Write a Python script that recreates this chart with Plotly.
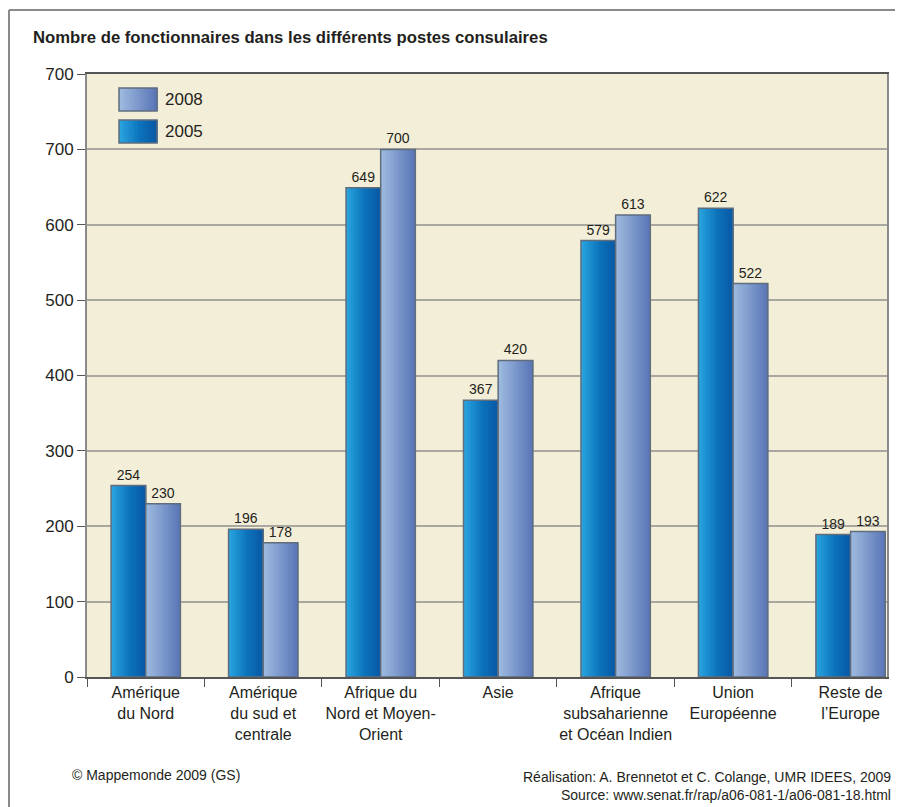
import plotly.graph_objects as go

# ---- data ----
categories = ["Amérique<br>du Nord", "Amérique<br>du sud et<br>centrale", "Afrique du<br>Nord et Moyen-<br>Orient",
              "Asie", "Afrique<br>subsaharienne<br>et Océan Indien", "Union<br>Européenne", "Reste de<br>l’Europe"]
values_2005 = [254, 196, 649, 367, 579, 622, 189]
values_2008 = [230, 178, 700, 420, 613, 522, 193]
y_tickvals = [0, 100, 200, 300, 400, 500, 600, 700, 800]
y_ticktext = ["0", "100", "200", "300", "400", "500", "600", "700", "700"]

title_text = "Nombre de fonctionnaires dans les différents postes consulaires"
credit_left = "© Mappemonde 2009 (GS)"
credit_right1 = "Réalisation: A. Brennetot et C. Colange, UMR IDEES, 2009"
credit_right2 = "Source: www.senat.fr/rap/a06-081-1/a06-081-18.html"

# ---- styles ----
FONT = "Liberation Sans, Arial, sans-serif"
TXT = "#231f20"
BAR_W = 0.295
N_STRIPS = 14

def lerp(c1, c2, t):
    a = [int(c1[i:i + 2], 16) for i in (1, 3, 5)]
    b = [int(c2[i:i + 2], 16) for i in (1, 3, 5)]
    return "rgb(%d,%d,%d)" % tuple(round(a[k] + (b[k] - a[k]) * t) for k in range(3))

def grad(stops, t):
    for i in range(len(stops) - 1):
        p0, c0 = stops[i]
        p1, c1 = stops[i + 1]
        if p0 <= t <= p1:
            return lerp(c0, c1, (t - p0) / (p1 - p0) if p1 > p0 else 0)
    return lerp(stops[-1][1], stops[-1][1], 0)

stops_2005 = [(0.0, "#2aa6e0"), (0.55, "#0b72ba"), (1.0, "#0a58a4")]
stops_2008 = [(0.0, "#a0bce0"), (1.0, "#5874b6")]

fig = go.Figure()

series = [("2005", values_2005, stops_2005, -BAR_W), ("2008", values_2008, stops_2008, 0.0)]
for name, vals, stops, off0 in series:
    sw = BAR_W / N_STRIPS
    for i in range(N_STRIPS):
        t = (i + 0.5) / N_STRIPS
        w = sw * 2.2 if i < N_STRIPS - 1 else sw
        fig.add_trace(go.Bar(
            x=categories, y=vals, offset=off0 + i * sw, width=w,
            marker=dict(color=grad(stops, t), line=dict(width=0)),
            showlegend=False, hoverinfo="skip"))
    fig.add_trace(go.Bar(
        x=categories, y=vals, offset=off0, width=BAR_W, name=name,
        marker=dict(color="rgba(0,0,0,0)", line=dict(color="#5f6d7d", width=1.5)),
        text=[str(v) for v in vals], textposition="outside",
        textfont=dict(size=14, color=TXT, family=FONT),
        cliponaxis=False, showlegend=False))

# ---- legend (drawn) ----
shapes = []
annotations = []
legend_items = [("2008", stops_2008, 0.9768, 0.9386), ("2005", stops_2005, 0.9237, 0.8856)]
lx0, lx1 = 0.04, 0.0875
for name, stops, ytop, ybot in legend_items:
    n = 12
    for i in range(n):
        t = (i + 0.5) / n
        shapes.append(dict(type="rect", xref="paper", yref="paper",
                           x0=lx0 + (lx1 - lx0) * i / n, x1=lx0 + (lx1 - lx0) * (i + 1) / n + 0.001,
                           y0=ybot, y1=ytop, fillcolor=grad(stops, t), line=dict(width=0), layer="above"))
    shapes.append(dict(type="rect", xref="paper", yref="paper", x0=lx0, x1=lx1, y0=ybot, y1=ytop,
                       line=dict(color="#5f6d7d", width=1.5), layer="above"))
    annotations.append(dict(xref="paper", yref="paper", x=0.095, y=(ytop + ybot) / 2, text=name,
                            showarrow=False, xanchor="left", yanchor="middle",
                            font=dict(size=17, color=TXT, family=FONT)))

# outer frame: left and top edges only (the rest runs off the page)
shapes.append(dict(type="line", xref="paper", yref="paper", x0=-0.0975, x1=-0.0975, y0=-0.3, y1=1.106,
                   line=dict(color="#8a8a8a", width=2), layer="below"))
shapes.append(dict(type="line", xref="paper", yref="paper", x0=-0.0975, x1=1.1, y0=1.106, y1=1.106,
                   line=dict(color="#8a8a8a", width=2), layer="below"))

annotations += [
    dict(xref="paper", yref="paper", x=-0.021, y=-0.1625, text=credit_left, showarrow=False,
         xanchor="left", yanchor="middle", font=dict(size=14, color=TXT, family=FONT)),
    dict(xref="paper", yref="paper", x=1.0075, y=-0.1655, text=credit_right1, showarrow=False,
         xanchor="right", yanchor="middle", font=dict(size=14, color=TXT, family=FONT)),
    dict(xref="paper", yref="paper", x=1.0075, y=-0.1957, text=credit_right2, showarrow=False,
         xanchor="right", yanchor="middle", font=dict(size=14, color=TXT, family=FONT)),
]

fig.update_layout(
    width=895, height=799,
    margin=dict(l=79, r=16, t=66, b=130),
    paper_bgcolor="white", plot_bgcolor="#f3eed7",
    barmode="overlay",
    font=dict(family=FONT, color=TXT),
    title=dict(text="<b>" + title_text + "</b>", x=25 / 895, xanchor="left", y=1 - 29 / 799, yanchor="middle",
               font=dict(size=16.7, color=TXT, family=FONT)),
    shapes=shapes, annotations=annotations,
    xaxis=dict(type="category", range=[-0.5, 6.31], tickson="boundaries", ticks="outside", ticklen=8,
               tickangle=0,
               tickcolor="#555555", tickwidth=1.2, showgrid=False, showline=True, linecolor="#555555",
               linewidth=1.5, mirror=True, tickfont=dict(size=16, color=TXT, family=FONT), zeroline=False),
    yaxis=dict(range=[0, 800], tickvals=y_tickvals, ticktext=y_ticktext, ticks="outside", ticklen=8,
               tickcolor="#555555", tickwidth=1.2, showgrid=True, gridcolor="#a9a8a0", gridwidth=1.5,
               showline=True, linecolor="#8a8a8a", linewidth=2, mirror=True, zeroline=False,
               tickfont=dict(size=17, color=TXT, family=FONT)),
)

fig.write_html("out.html")
